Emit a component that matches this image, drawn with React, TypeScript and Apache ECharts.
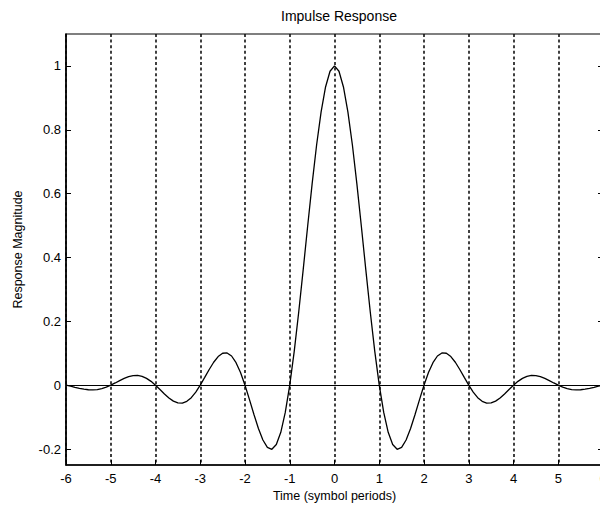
import React, { useEffect, useRef } from "react";
import * as echarts from "echarts";

const time = [
  -6, -5.9, -5.8, -5.7, -5.6, -5.5, -5.4, -5.3, -5.2, -5.1,
  -5, -4.9, -4.8, -4.7, -4.6, -4.5, -4.4, -4.3, -4.2, -4.1,
  -4, -3.9, -3.8, -3.7, -3.6, -3.5, -3.4, -3.3, -3.2, -3.1,
  -3, -2.9, -2.8, -2.7, -2.6, -2.5, -2.4, -2.3, -2.2, -2.1,
  -2, -1.9, -1.8, -1.7, -1.6, -1.5, -1.4, -1.3, -1.2, -1.1,
  -1, -0.9, -0.8, -0.7, -0.6, -0.5, -0.4, -0.3, -0.2, -0.1,
  0,
  0.1, 0.2, 0.3, 0.4, 0.5, 0.6, 0.7, 0.8, 0.9, 1,
  1.1, 1.2, 1.3, 1.4, 1.5, 1.6, 1.7, 1.8, 1.9, 2,
  2.1, 2.2, 2.3, 2.4, 2.5, 2.6, 2.7, 2.8, 2.9, 3,
  3.1, 3.2, 3.3, 3.4, 3.5, 3.6, 3.7, 3.8, 3.9, 4,
  4.1, 4.2, 4.3, 4.4, 4.5, 4.6, 4.7, 4.8, 4.9, 5,
  5.1, 5.2, 5.3, 5.4, 5.5, 5.6, 5.7, 5.8, 5.9, 6,
];

const response = [
  0, -0.0031, -0.0065, -0.0097, -0.0125, -0.0143, -0.0148, -0.0137, -0.0107, -0.0061,
  0, 0.007, 0.0144, 0.0212, 0.0267, 0.03, 0.0305, 0.0277, 0.0214, 0.012,
  0, -0.0136, -0.0274, -0.04, -0.0499, -0.0557, -0.0562, -0.0506, -0.039, -0.0217,
  0, 0.0244, 0.0492, 0.0718, 0.0896, 0.1, 0.101, 0.0914, 0.0706, 0.0396,
  0, -0.0451, -0.0919, -0.1357, -0.1717, -0.1949, -0.2008, -0.1859, -0.1477, -0.0854,
  0, 0.106, 0.2283, 0.3612, 0.4978, 0.6307, 0.7523, 0.8555, 0.9341, 0.9833,
  1,
  0.9833, 0.9341, 0.8555, 0.7523, 0.6307, 0.4978, 0.3612, 0.2283, 0.106, 0,
  -0.0854, -0.1477, -0.1859, -0.2008, -0.1949, -0.1717, -0.1357, -0.0919, -0.0451, 0,
  0.0396, 0.0706, 0.0914, 0.101, 0.1, 0.0896, 0.0718, 0.0492, 0.0244, 0,
  -0.0217, -0.039, -0.0506, -0.0562, -0.0557, -0.0499, -0.04, -0.0274, -0.0136, 0,
  0.012, 0.0214, 0.0277, 0.0305, 0.03, 0.0267, 0.0212, 0.0144, 0.007, 0,
  -0.0061, -0.0107, -0.0137, -0.0148, -0.0143, -0.0125, -0.0097, -0.0065, -0.0031, 0,
];

const yTicks = [-0.2, 0, 0.2, 0.4, 0.6, 0.8, 1];

const FONT = '"Liberation Sans", Arial, Helvetica, sans-serif';

export default function App() {
  const ref = useRef<HTMLDivElement>(null);

  useEffect(() => {
    if (!ref.current) return;
    const chart = echarts.init(ref.current, undefined, { renderer: "svg" });
    const seriesData = time.map((t, i) => [t, response[i]]);
    const fmt = (v: number) => String(Math.round(v * 10) / 10);

    chart.setOption({
      animation: false,
      backgroundColor: "#ffffff",
      title: {
        text: "Impulse Response",
        left: 334,
        top: 4,
        textAlign: "center",
        textStyle: {
          fontFamily: FONT,
          fontSize: 14,
          fontWeight: "normal",
          color: "#000",
        },
      },
      grid: {
        left: 66,
        right: -3,
        top: 34,
        bottom: 42,
        show: true,
        borderColor: "#000",
        borderWidth: 1.2,
        backgroundColor: "transparent",
        containLabel: false,
        outerBoundsMode: "none",
      },
      xAxis: {
        type: "value",
        min: -6,
        max: 6,
        interval: 1,
        name: "Time (symbol periods)",
        nameLocation: "middle",
        nameGap: 21,
        nameTextStyle: { fontFamily: FONT, fontSize: 12.5, color: "#000" },
        axisLine: { show: true, onZero: false, lineStyle: { color: "#000", width: 1.5 } },
        axisTick: { show: true, inside: true, length: 5, lineStyle: { color: "#000" } },
        axisLabel: {
          fontFamily: FONT,
          fontSize: 13,
          color: "#000",
          margin: 7,
          formatter: (v: number) => String(v),
        },
        splitLine: {
          show: true,
          lineStyle: { color: "#111", width: 1.6, type: [3, 2.6] },
        },
      },
      yAxis: [
        {
          type: "value",
          min: -0.25,
          max: 1.1,
          name: "Response Magnitude",
          nameLocation: "middle",
          nameGap: 42,
          nameRotate: 90,
          nameTextStyle: { fontFamily: FONT, fontSize: 12.5, color: "#000" },
          axisLine: { show: true, onZero: false, lineStyle: { color: "#000", width: 1.5 } },
          axisTick: {
            show: true,
            inside: true,
            length: 5,
            customValues: yTicks,
            lineStyle: { color: "#000" },
          },
          axisLabel: {
            fontFamily: FONT,
            fontSize: 13,
            color: "#000",
            margin: 5,
            customValues: yTicks,
            formatter: fmt,
          },
          splitLine: { show: false },
        },
        {
          type: "value",
          min: -0.25,
          max: 1.1,
          position: "right",
          axisLine: { show: false, onZero: false },
          axisTick: {
            show: true,
            inside: true,
            length: 5,
            customValues: yTicks,
            lineStyle: { color: "#000" },
          },
          axisLabel: { show: false },
          splitLine: { show: false },
        },
      ],
      series: [
        {
          type: "line",
          data: seriesData,
          yAxisIndex: 0,
          showSymbol: false,
          symbol: "none",
          smooth: false,
          lineStyle: { color: "#000", width: 1.3 },
          markLine: {
            silent: true,
            symbol: "none",
            label: { show: false },
            lineStyle: { color: "#000", width: 1, type: "solid" },
            data: [{ yAxis: 0 }],
          },
          z: 3,
        },
      ],
    });

    return () => chart.dispose();
  }, []);

  return (
    <div
      ref={ref}
      style={{
        position: "fixed",
        left: 0,
        top: 0,
        width: 600,
        height: 507,
        background: "#fff",
      }}
    />
  );
}
